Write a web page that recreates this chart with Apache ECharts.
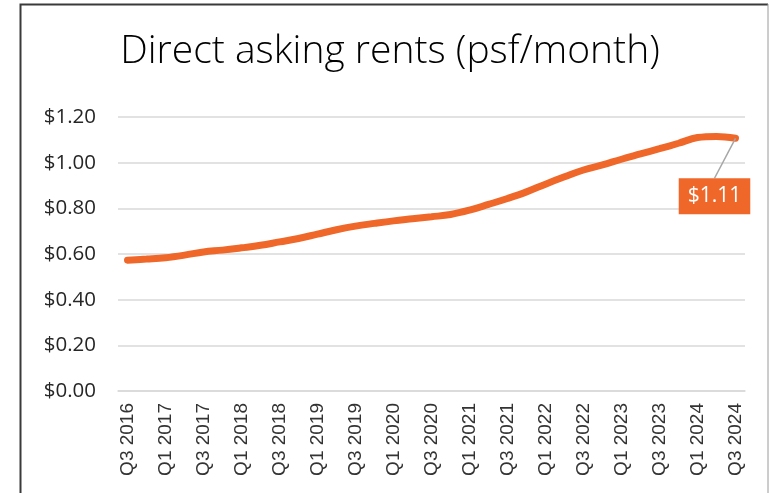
<!DOCTYPE html>
<html>
<head>
<meta charset="utf-8">
<script src="https://cdn.jsdelivr.net/npm/echarts@6/dist/echarts.min.js"></script>
<style>
  html, body { margin: 0; padding: 0; background: #fff; }
  #chart { width: 769px; height: 493px; }
</style>
</head>
<body>
<div id="chart"></div>
<script>
// quarters Q3 2016 .. Q3 2024
const quarters = [
  'Q3 2016', 'Q4 2016', 'Q1 2017', 'Q2 2017', 'Q3 2017', 'Q4 2017',
  'Q1 2018', 'Q2 2018', 'Q3 2018', 'Q4 2018', 'Q1 2019', 'Q2 2019',
  'Q3 2019', 'Q4 2019', 'Q1 2020', 'Q2 2020', 'Q3 2020', 'Q4 2020',
  'Q1 2021', 'Q2 2021', 'Q3 2021', 'Q4 2021', 'Q1 2022', 'Q2 2022',
  'Q3 2022', 'Q4 2022', 'Q1 2023', 'Q2 2023', 'Q3 2023', 'Q4 2023',
  'Q1 2024', 'Q2 2024', 'Q3 2024'
]
const rents = [
  0.573, 0.578, 0.584, 0.595, 0.609, 0.617,
  0.627, 0.638, 0.653, 0.668, 0.687, 0.706,
  0.722, 0.734, 0.745, 0.754, 0.763, 0.773,
  0.792, 0.817, 0.843, 0.872, 0.906, 0.938,
  0.968, 0.990, 1.015, 1.038, 1.061, 1.085,
  1.110, 1.115, 1.107
]
const endLabel = '$1.11'

const orange = '#F0672A'
const chart = echarts.init(document.getElementById('chart'))

const lastIdx = rents.length - 1
const seriesData = rents.map((v, i) => {
  if (i !== lastIdx) return v
  return {
    value: v,
    label: {
      show: true,
      position: 'inside',
      formatter: endLabel,
      backgroundColor: orange,
      color: '#fff',
      fontFamily: 'Open Sans',
      fontSize: 21,
      lineHeight: 24,
      padding: [7, 9, 5, 9]
    },
    labelLine: {
      show: true,
      lineStyle: { color: '#A6A6A6', width: 1.5 }
    }
  }
})

const option = {
  animation: false,
  title: {
    text: 'Direct asking rents (psf/month)',
    left: 385,
    textAlign: 'center',
    top: 27,
    textStyle: {
      fontFamily: 'Open Sans',
      fontWeight: 300,
      fontSize: 39,
      color: '#000'
    }
  },
  grid: {
    left: 118,
    right: 24,
    top: 117,
    bottom: 102
  },
  xAxis: {
    type: 'category',
    data: quarters,
    boundaryGap: true,
    axisLine: { lineStyle: { color: '#D9D9D9', width: 1.5 } },
    axisTick: { show: false },
    axisLabel: {
      rotate: 90,
      interval: 1,
      margin: 12,
      color: '#333',
      fontFamily: 'Liberation Sans',
      fontSize: 19
    }
  },
  yAxis: {
    type: 'value',
    min: 0,
    max: 1.2,
    interval: 0.2,
    axisLine: { show: false },
    axisTick: { show: false },
    splitLine: { lineStyle: { color: '#D9D9D9', width: 1.5 } },
    axisLabel: {
      margin: 22,
      color: '#262626',
      fontFamily: 'Open Sans',
      fontSize: 20.5,
      formatter: (v) => '$' + v.toFixed(2)
    }
  },
  series: [
    {
      type: 'line',
      data: seriesData,
      smooth: 0.4,
      symbol: 'circle',
      symbolSize: 0.1,
      showSymbol: true,
      lineStyle: { color: orange, width: 7, cap: 'round' },
      itemStyle: { color: orange },
      labelLayout: (params) => {
        if (params.dataIndex !== lastIdx) return {}
        return { dx: -21, dy: 58 }
      }
    }
  ],
  graphic: [
    {
      type: 'polyline',
      silent: true,
      shape: { points: [[20.5, 500], [20.5, 4.5], [768, 4.5]] },
      style: { stroke: '#3A3A3A', lineWidth: 2, fill: null }
    },
    {
      type: 'line',
      silent: true,
      shape: { x1: 768, y1: 4, x2: 768, y2: 500 },
      style: { stroke: '#9A9A9A', lineWidth: 1 }
    }
  ]
}

chart.setOption(option)
window.addEventListener('resize', () => {
  chart.resize()
})
</script>
</body>
</html>
